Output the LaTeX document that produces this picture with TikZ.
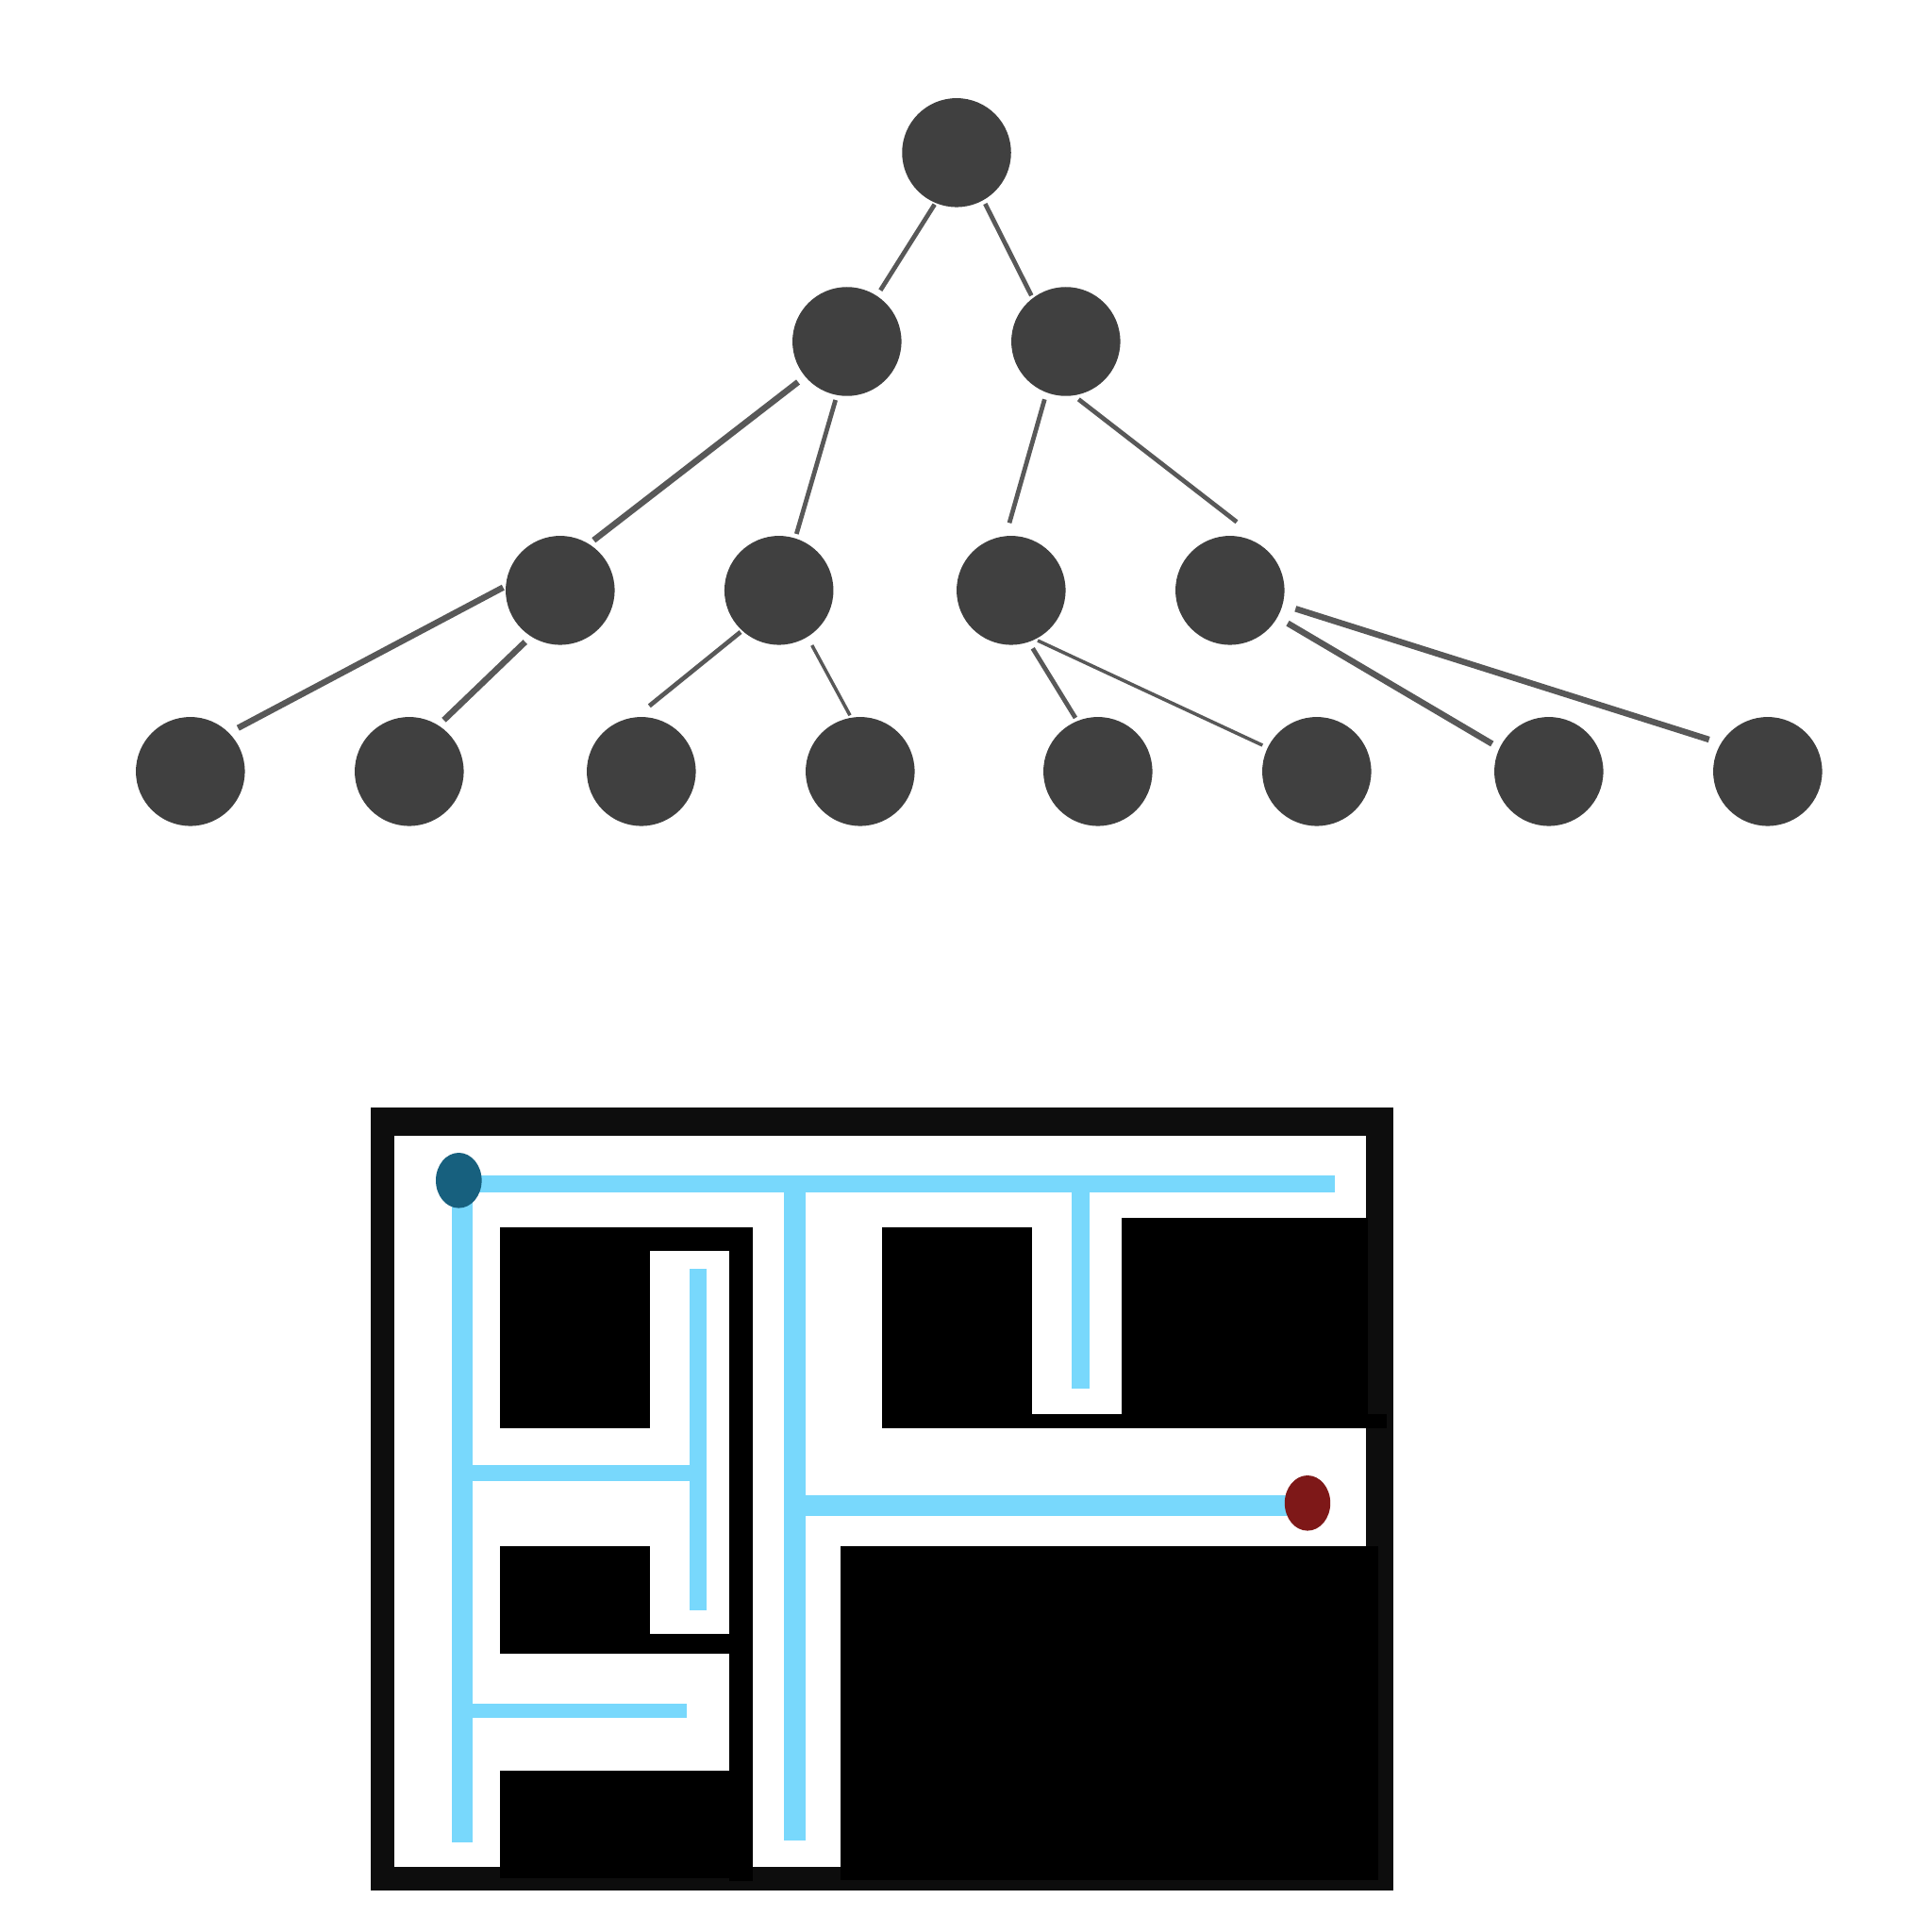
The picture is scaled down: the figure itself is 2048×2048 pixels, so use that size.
\documentclass[tikz,border=0pt]{standalone}
\usepackage{tikz}
\usetikzlibrary{calc}

\definecolor{nodegray}{HTML}{404040}
\definecolor{edgegray}{HTML}{585858}
\definecolor{framegray}{HTML}{0D0D0D}
\definecolor{trailblue}{HTML}{78D8FC}
\definecolor{startblue}{HTML}{17607E}
\definecolor{goalred}{HTML}{7E1818}

\begin{document}
\begin{tikzpicture}[x=0.1mm, y=-0.1mm,
    vertex/.style={circle, fill=nodegray, inner sep=0pt, minimum size=11.55mm},
    edge/.style={draw=edgegray, line width=1.35pt},
    thinedge/.style={draw=edgegray, line width=1pt},
    thickedge/.style={draw=edgegray, line width=1.85pt},
    wall/.style={fill=black},
    trail/.style={fill=trailblue}]

    \fill[white] (0,0) rectangle (2048,2048);
    \useasboundingbox (0,0) rectangle (2048,2048);

    % Tree nodes
    \node[vertex] (root) at (1014,161.8) {};
    \node[vertex] (a1) at (897.8,362) {};
    \node[vertex] (a2) at (1129.8,362) {};
    \node[vertex] (b1) at (593.8,625.8) {};
    \node[vertex] (b2) at (825.7,625.8) {};
    \node[vertex] (b3) at (1071.8,625.8) {};
    \node[vertex] (b4) at (1303.8,625.8) {};
    \node[vertex] (c1) at (201.8,817.8) {};
    \node[vertex] (c2) at (433.8,817.8) {};
    \node[vertex] (c3) at (679.8,817.8) {};
    \node[vertex] (c4) at (911.8,817.8) {};
    \node[vertex] (c5) at (1163.8,817.8) {};
    \node[vertex] (c6) at (1395.8,817.8) {};
    \node[vertex] (c7) at (1641.8,817.8) {};
    \node[vertex] (c8) at (1873.8,817.8) {};

    % Tree edges (short of the circles)
    \draw[edge] ($(root)+(-23.3,54.9)$) -- ($(a1)+(35.5,-54.3)$);
    \draw[edge] ($(root)+(30.3,54.2)$) -- ($(a2)+(-36.5,-48.7)$);
    \draw[thickedge] ($(a1)+(-51.8,43)$) -- ($(b1)+(35.5,-53.1)$);
    \draw[edge] ($(a1)+(-12.1,62)$) -- ($(b2)+(18.6,-59.8)$);
    \draw[edge] ($(a2)+(-22.5,61.3)$) -- ($(b3)+(-1.8,-71.5)$);
    \draw[edge] ($(a2)+(13.5,61.3)$) -- ($(b4)+(7.2,-72.5)$);
    \draw[thickedge] ($(b1)+(-60.5,-3.1)$) -- ($(c1)+(50.5,-46.1)$);
    \draw[thickedge] ($(b1)+(-37.1,54.7)$) -- ($(c2)+(36.7,-54.5)$);
    \draw[edge] ($(b2)+(-40.7,44.2)$) -- ($(c3)+(8.5,-69.5)$);
    \draw[thinedge] ($(b2)+(35,58.2)$) -- ($(c4)+(-10.8,-59.5)$);
    \draw[edge] ($(b3)+(22.9,61.5)$) -- ($(c5)+(-23.8,-56.8)$);
    \draw[thinedge] ($(b3)+(28.2,53.2)$) -- ($(c6)+(-57.5,-27.8)$);
    \draw[thickedge] ($(b4)+(61.2,34.9)$) -- ($(c7)+(-60.1,-29.3)$);
    \draw[thickedge] ($(b4)+(69.5,19.5)$) -- ($(c8)+(-62.1,-33.8)$);

    % Maze frame
    \fill[framegray] (392.7,1174) rectangle (1477,2003.7);
    \fill[white] (418,1204) rectangle (1447.5,1979);

    % Walls, left half
    \fill[wall] (530,1301) rectangle (689,1514);
    \fill[wall] (530,1301) rectangle (798,1326);
    \fill[wall] (773,1301) rectangle (798,1993.7);
    \fill[wall] (530,1639.2) rectangle (689,1752.7);
    \fill[wall] (689,1732.4) rectangle (773,1752.7);
    \fill[wall] (530,1877.4) rectangle (798,1990.8);

    % Walls, right half
    \fill[wall] (934.9,1301) rectangle (1094.2,1514.4);
    \fill[wall] (1094.2,1499.3) rectangle (1469.9,1514.4);
    \fill[wall] (1189.4,1290.9) rectangle (1450.4,1499.3);
    \fill[wall] (890.9,1639.2) rectangle (1461.2,1992.5);

    % Search trail
    \fill[trail] (486,1246) rectangle (1415,1263.7);
    \fill[trail] (479,1251) rectangle (500.7,1952.6);
    \fill[trail] (500.7,1553) rectangle (749,1569.7);
    \fill[trail] (731,1345) rectangle (749,1706.6);
    \fill[trail] (500.7,1805.5) rectangle (728,1821.2);
    \fill[trail] (831,1263) rectangle (854,1950.7);
    \fill[trail] (854,1585) rectangle (1386,1606.7);
    \fill[trail] (1135.7,1263) rectangle (1154.8,1471.7);

    % Start and goal
    \fill[startblue] (486.3,1251.3) ellipse [x radius=24.3, y radius=29.3];
    \fill[goalred] (1386,1593.3) ellipse [x radius=24.2, y radius=29.3];
\end{tikzpicture}
\end{document}
